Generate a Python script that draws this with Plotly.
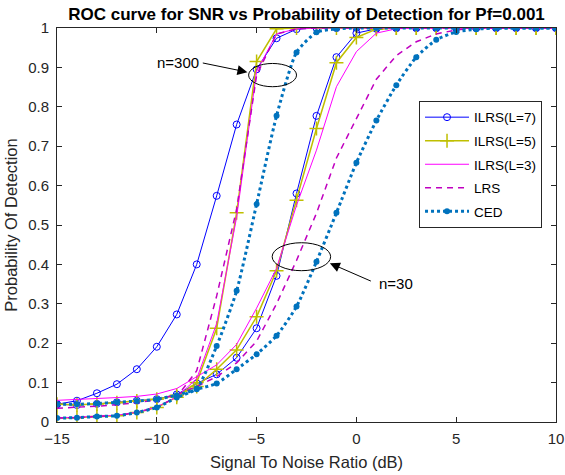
import plotly.graph_objects as go

snr = list(range(-15, 11))

# n = 300
ilrs7_n300 = [0.045, 0.054, 0.073, 0.096, 0.134, 0.191, 0.273, 0.400, 0.574, 0.755, 0.895, 0.974, 0.997] + [1.0] * 13
ilrs5_n300 = [0.010, 0.011, 0.014, 0.016, 0.024, 0.037, 0.063, 0.100, 0.238, 0.531, 0.915, 0.998] + [1.0] * 14
ilrs3_n300 = [0.011, 0.012, 0.015, 0.017, 0.025, 0.038, 0.064, 0.110, 0.250, 0.520, 0.890, 0.985, 0.998] + [1.0] * 13
lrs_n300 = [0.010, 0.011, 0.014, 0.016, 0.024, 0.037, 0.064, 0.130, 0.320, 0.540, 0.880, 0.985, 0.998] + [1.0] * 13
ced_n300 = [0.010, 0.011, 0.014, 0.016, 0.024, 0.037, 0.062, 0.085, 0.193, 0.333, 0.553, 0.777, 0.938, 0.989, 0.998] + [1.0] * 11

# n = 30
ilrs7_n30 = [0.045, 0.043, 0.046, 0.050, 0.054, 0.058, 0.070, 0.098, 0.121, 0.163, 0.238, 0.371, 0.580, 0.777, 0.926, 0.987, 0.998] + [1.0] * 9
ilrs5_n30 = [0.045, 0.044, 0.046, 0.049, 0.053, 0.058, 0.068, 0.090, 0.134, 0.183, 0.267, 0.384, 0.563, 0.745, 0.912, 0.976, 0.997] + [1.0] * 9
ilrs3_n30 = [0.055, 0.057, 0.059, 0.062, 0.065, 0.071, 0.085, 0.115, 0.145, 0.197, 0.289, 0.390, 0.550, 0.690, 0.851, 0.940, 0.987, 0.998] + [1.0] * 8
lrs_n30 = [0.035, 0.037, 0.040, 0.044, 0.049, 0.056, 0.070, 0.090, 0.115, 0.150, 0.205, 0.300, 0.410, 0.530, 0.670, 0.770, 0.870, 0.930, 0.965, 0.985, 0.995] + [1.0] * 5
ced_n30 = [0.045, 0.045, 0.047, 0.050, 0.053, 0.058, 0.068, 0.083, 0.098, 0.134, 0.172, 0.219, 0.293, 0.407, 0.531, 0.658, 0.765, 0.855, 0.926, 0.970, 0.990, 0.997] + [1.0] * 4

names = ["ILRS(L=7)", "ILRS(L=5)", "ILRS(L=3)", "LRS", "CED"]
series_n300 = [ilrs7_n300, ilrs5_n300, ilrs3_n300, lrs_n300, ced_n300]
series_n30 = [ilrs7_n30, ilrs5_n30, ilrs3_n30, lrs_n30, ced_n30]

styles = [
    dict(line=dict(color="#0000FF", width=1), mode="lines+markers",
         marker=dict(symbol="circle-open", size=7, color="#0000FF", line=dict(width=1))),
    dict(line=dict(color="#BFBF00", width=1.5), mode="lines+markers",
         marker=dict(symbol="cross-thin-open", size=10, color="#BFBF00", line=dict(width=1.5, color="#BFBF00"))),
    dict(line=dict(color="#FF00FF", width=1), mode="lines"),
    dict(line=dict(color="#C000C0", width=1.5, dash="6px,5px"), mode="lines"),
    dict(line=dict(color="#0072BD", width=3, dash="dot", shape="spline", smoothing=0.6), mode="lines+markers",
         marker=dict(symbol="circle", size=6, color="#0072BD")),
]

fig = go.Figure()
for i, (nm, st) in enumerate(zip(names, styles)):
    fig.add_trace(go.Scatter(x=snr, y=series_n300[i], name=nm, legendgroup=nm, showlegend=True, **st))
    fig.add_trace(go.Scatter(x=snr, y=series_n30[i], name=nm, legendgroup=nm, showlegend=False, **st))

font = "Liberation Sans, Arial, Helvetica, sans-serif"

# ellipses
fig.add_shape(type="circle", xref="x", yref="y", x0=-5.40, x1=-3.0, y0=0.851, y1=0.910,
              line=dict(color="black", width=1))
fig.add_shape(type="circle", xref="x", yref="y", x0=-4.22, x1=-1.29, y0=0.384, y1=0.455,
              line=dict(color="black", width=1))

# arrows
fig.add_annotation(x=-5.46, y=0.888, ax=-7.77, ay=0.912, axref="x", ayref="y", xref="x", yref="y",
                   text="", showarrow=True, arrowhead=2, arrowsize=2, arrowwidth=1, arrowcolor="black")
fig.add_annotation(x=-7.80, y=0.912, xref="x", yref="y", text="n=300", showarrow=False,
                   xanchor="right", yanchor="middle", font=dict(family=font, size=15, color="black"))
fig.add_annotation(x=-1.33, y=0.403, ax=0.80, ay=0.356, axref="x", ayref="y", xref="x", yref="y",
                   text="", showarrow=True, arrowhead=2, arrowsize=2, arrowwidth=1, arrowcolor="black")
fig.add_annotation(x=1.04, y=0.352, xref="x", yref="y", text="n=30", showarrow=False,
                   xanchor="left", yanchor="middle", font=dict(family=font, size=15, color="black"))

axis_common = dict(showline=True, linecolor="#262626", linewidth=1, mirror="ticks", ticks="inside",
                   ticklen=5, tickcolor="#262626", showgrid=False, zeroline=False, automargin=False,
                   tickfont=dict(family=font, size=15, color="#262626"))

fig.update_layout(
    width=565, height=475,
    margin=dict(l=57, r=9, t=28, b=53),
    paper_bgcolor="white", plot_bgcolor="white",
    title=dict(text="<b>ROC curve for SNR vs Probability of Detection for Pf=0.001</b>",
               x=0.5, xref="paper", xanchor="center", y=1 - 14 / 475, yref="container", yanchor="middle",
               font=dict(family=font, size=17, color="black")),
    xaxis=dict(range=[-15, 10], dtick=5, tick0=-15, ticklabelstandoff=3,
               title=dict(text="Signal To Noise Ratio (dB)", font=dict(family=font, size=16.5, color="#262626"), standoff=10),
               **axis_common),
    yaxis=dict(range=[0, 1], dtick=0.1, tick0=0, ticklabelstandoff=4,
               title=dict(text="Probability Of Detection", font=dict(family=font, size=16.5, color="#262626"), standoff=6),
               **axis_common),
    legend=dict(x=0.7255, y=0.815, xanchor="left", yanchor="top", bgcolor="white",
                bordercolor="#262626", borderwidth=1, font=dict(family=font, size=13.5, color="black"),
                tracegroupgap=3, itemwidth=44, traceorder="grouped"),
    showlegend=True,
)

fig.write_html("out.html")
